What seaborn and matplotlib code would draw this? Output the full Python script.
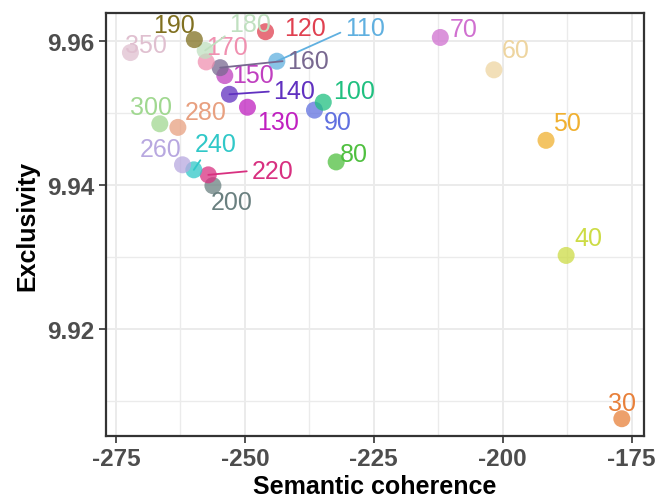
import pandas as pd
import matplotlib
matplotlib.use("Agg")
import matplotlib.pyplot as plt
from matplotlib.ticker import MultipleLocator
import seaborn as sns

# datos
topics = ["30", "40", "50", "60", "70", "80", "90", "100", "110", "120", "130", "140",
          "150", "160", "170", "180", "190", "200", "220", "240", "260", "280", "300", "350"]
coherence = [-176.9, -187.7, -191.6, -201.7, -212.1, -232.3, -236.5, -234.8, -243.8, -246.0,
             -249.5, -253.0, -253.9, -254.8, -257.5, -257.7, -259.8, -256.2, -257.1, -259.9,
             -262.1, -263.0, -266.5, -272.2]
exclusivity = [9.9075, 9.9302, 9.9462, 9.9560, 9.9605, 9.9432, 9.9504, 9.9515, 9.9572, 9.9613,
               9.9508, 9.9526, 9.9552, 9.9563, 9.9571, 9.9587, 9.9602, 9.9399, 9.9414, 9.9421,
               9.9428, 9.9480, 9.9485, 9.9584]
colores = ["#E8803A", "#CDDC45", "#F0B030", "#EED5A0", "#D070D0", "#50C040", "#6070E0",
           "#20C080", "#60B0E0", "#E04050", "#C020C0", "#6030C0", "#C040C0", "#786890",
           "#F090B0", "#C0E0C0", "#807020", "#6A8080", "#D83080", "#30C8C8", "#B8A8E0",
           "#E8A080", "#A0D890", "#E0C0D0"]

# desplazamiento de las etiquetas (px) y si llevan linea
offsets = {"30": (0, 16), "40": (22, 17), "50": (21, 17), "60": (22, 20), "70": (23, 8),
           "80": (18, 8), "90": (23, -12), "100": (31, 11), "110": (88, 33), "120": (39, 4),
           "130": (31, -15), "140": (65, 3), "150": (28, 1), "160": (88, 7), "170": (21, 15),
           "180": (45, 26), "190": (-20, 15), "200": (19, -16), "220": (64, 4), "240": (22, 26),
           "260": (-22, 16), "280": (28, 15), "300": (-9, 17), "350": (16, 8)}
con_linea = {"110": (0, 0.4), "140": (0, 0.5), "160": (0, 0.5), "180": (0.05, 0.2),
             "220": (0, 0.5), "240": (0.2, 0.0)}

df = pd.DataFrame({"topic": topics, "coherence": coherence, "exclusivity": exclusivity})
paleta = dict(zip(topics, colores))

sns.set_style("whitegrid")
plt.rcParams["font.family"] = ["Liberation Sans", "DejaVu Sans"]

fig = plt.figure(figsize=(6.55, 5.02), dpi=100)
ax = fig.add_axes([0.1618, 0.1295, 0.8214, 0.8426])

sns.scatterplot(data=df, x="coherence", y="exclusivity", hue="topic", palette=paleta,
                s=150, alpha=0.75, edgecolor="none", legend=False, ax=ax, zorder=3)

px = 0.72  # px -> points
for t, x, y, c in zip(topics, coherence, exclusivity, colores):
    dx, dy = offsets[t]
    if t in con_linea:
        ax.annotate(t, (x, y), xytext=(dx * px, dy * px), textcoords="offset points",
                    ha="center", va="center", color=c, fontsize=18, zorder=4,
                    arrowprops=dict(arrowstyle="-", color=c, lw=1.3, shrinkA=1, shrinkB=0,
                                    relpos=con_linea[t]))
    else:
        ax.annotate(t, (x, y), xytext=(dx * px, dy * px), textcoords="offset points",
                    ha="center", va="center", color=c, fontsize=18, zorder=4)

ax.set_xlim(-276.94, -172.6)
ax.set_ylim(9.9051, 9.9639)
ax.xaxis.set_major_locator(MultipleLocator(25))
ax.xaxis.set_minor_locator(MultipleLocator(12.5))
ax.yaxis.set_major_locator(MultipleLocator(0.02))
ax.yaxis.set_minor_locator(MultipleLocator(0.01))
ax.set_xticks([-275, -250, -225, -200, -175])
ax.set_xticklabels(["-275", "-250", "-225", "-200", "-175"])
ax.set_yticks([9.92, 9.94, 9.96])
ax.set_yticklabels(["9.92", "9.94", "9.96"])

ax.grid(which="major", color="#EBEBEB", lw=1.4)
ax.grid(which="minor", color="#EBEBEB", lw=1.0)
ax.set_axisbelow(True)
ax.tick_params(which="major", direction="out", length=5, width=1.2, color="#333333",
               labelsize=17.5, labelcolor="#4D4D4D", left=True, bottom=True, pad=3)
ax.tick_params(which="minor", length=0)
for lab in ax.get_xticklabels() + ax.get_yticklabels():
    lab.set_fontweight("bold")
for s in ax.spines.values():
    s.set_color("#333333")
    s.set_linewidth(1.6)

ax.set_xlabel("Semantic coherence", fontsize=18, fontweight="bold", color="black", labelpad=3)
ax.set_ylabel("Exclusivity", fontsize=18, fontweight="bold", color="black", labelpad=6)

fig.savefig("out.png", dpi=100)
